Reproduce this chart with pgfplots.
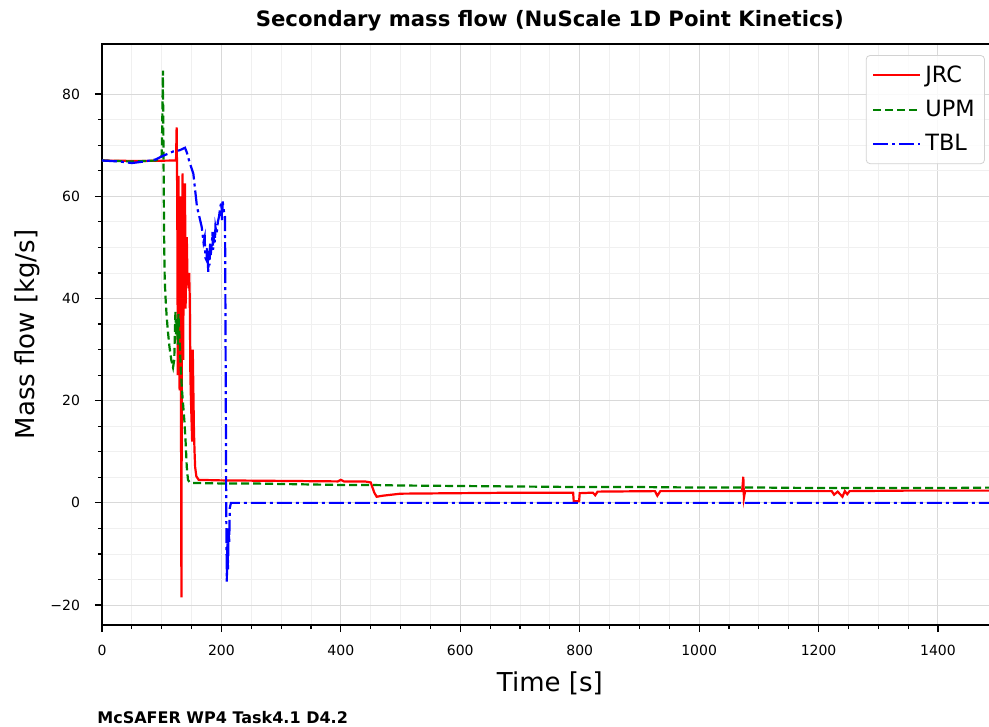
\documentclass[border=0pt]{standalone}
\usepackage{fontspec}
\setmainfont{DejaVu Sans}
\usepackage{pgfplots}
\pgfplotsset{compat=1.18}
\definecolor{mplred}{RGB}{255,0,0}
\definecolor{mplgreen}{RGB}{0,128,0}
\definecolor{mplblue}{RGB}{0,0,255}
\begin{document}
\begin{tikzpicture}
\begin{scope}
\clip (-51pt,-51pt) rectangle (443.5pt,312.5pt);
\begin{axis}[
  at={(0pt,0pt)}, anchor=south west,
  scale only axis, width=447.85pt, height=290.5pt,
  xmin=0, xmax=1500, ymin=-23.9, ymax=89.8,
  xtick={0,200,...,1400}, ytick={-20,0,20,40,60,80},
  yticklabels={−20,0,20,40,60,80},
  minor x tick num=3, minor y tick num=3,
  tick align=outside, tickpos=left,
  major tick length=3.5pt, minor tick length=2pt,
  every tick/.style={black, line width=0.6pt},
  grid=both,
  major grid style={gray!30, line width=0.5pt},
  minor grid style={gray!12, line width=0.4pt},
  axis line style={line width=0.9pt},
  ticklabel style={font=\fontsize{7}{8}\selectfont},
  /pgf/number format/assume math mode=true,
  /pgf/number format/set thousands separator={},
  xticklabel style={yshift=-3pt},
  yticklabel style={xshift=-4pt},
  title={Secondary mass flow (NuScale 1D Point Kinetics)},
  every axis title/.style={at={(axis description cs:0.5,1.0293)}, anchor=base, font=\fontsize{10.6}{12}\selectfont\bfseries},
  xlabel={Time [s]},
  ylabel={Mass flow [kg/s]},
  every axis x label/.style={at={(axis description cs:0.5,-0.1153)}, anchor=base, font=\fontsize{13}{15}\selectfont},
  every axis y label/.style={at={(axis description cs:-0.0759,0.5)}, rotate=90, anchor=base, font=\fontsize{13}{15}\selectfont},
  legend style={at={(axis description cs:0.9858,0.981)}, anchor=north east, draw=gray!35, rounded corners=2pt, fill=white, fill opacity=0.85, text opacity=1, font=\fontsize{11.2}{12}\selectfont, row sep=3.5pt, inner sep=3pt},
  legend cell align=left,
  legend image code/.code={\draw[#1] (0pt,0pt) -- (23.5pt,0pt);},
]
\addplot[mplred, line width=1.1pt] coordinates {
(0,67)(60,66.9)(124,67)(125,73.5)(126,60)(127,25)(128,64)(129,30)(130,22)(131,60)(132,35)(133,-18.5)(134,50)(135,64.5)(136,28)(137,55)(138,40)(139,62.5)(140,38)(141,50)(142,52)(143,45)(145,42)(146,45)(147,40)(148,25)(149,20)(150,16)(151,12)(152,30)(153,22)(154,14)(155,10)(156,7)(158,5.2)(162,4.5)(200,4.4)(300,4.3)(395,4.2)(400,4.5)(405,4.2)(440,4.2)(450,4.0)(456,2.0)(460,1.2)(470,1.4)(500,1.8)(600,1.9)(700,2.0)(789,2.0)(790,0.3)(799,0.3)(800,1.9)(822,2.0)(826,1.5)(830,2.2)(926,2.3)(930,1.4)(935,2.3)(1072,2.3)(1074,5.1)(1075,1.0)(1077,2.3)(1222,2.3)(1226,1.6)(1232,2.2)(1240,1.2)(1244,2.3)(1248,1.7)(1252,2.3)(1350,2.4)(1500,2.4)
};
\addlegendentry{JRC}
\addplot[mplgreen, line width=1.1pt, dash pattern=on 4pt off 2pt] coordinates {
(0,67.0)(50,66.8)(90,67.0)(98,67.5)(100,68)(101,75)(102,84.6)(103,68)(104,52)(105,44)(106,41)(108,37)(110,34)(113,30.5)(116,28)(119,26.5)(121,28)(122,33)(123,37.5)(124,33)(125,36)(127,31)(128,37)(130,32)(132,26)(134,22)(136,19)(138,16)(140,12)(142,7)(144,4.5)(147,4.0)(150,3.9)(200,3.8)(250,3.8)(300,3.7)(350,3.6)(400,3.5)(450,3.5)(500,3.4)(600,3.3)(700,3.2)(800,3.1)(900,3.1)(1000,3.0)(1100,3.0)(1200,2.9)(1300,2.9)(1400,2.9)(1500,3.0)
};
\addlegendentry{UPM}
\addplot[mplblue, line width=1.1pt, dash pattern=on 7.5pt off 2pt on 1.5pt off 2pt] coordinates {
(0,67)(30,66.8)(50,66.5)(70,66.8)(90,67.2)(100,67.8)(110,68.3)(120,68.8)(130,69.0)(139,69.5)(142,68.6)(147,66.5)(153,64.4)(159,58)(163,56)(167,54)(170,51)(172,52)(173,48)(175,47.5)(176,50)(178,45.2)(179,49)(180,46.5)(181,51)(182,48.5)(184,50.7)(185,53)(186,49.5)(188,53)(189,51)(190,54)(192,52.7)(194,55)(196,56)(198,57.9)(200,58.8)(201,55)(202,59)(204,57.2)(206,56)(207,30)(208,0)(209,-15.4)(210,-8)(211,-13)(212,-5)(213,-8)(214,-1)(216,0)(1500,0)
};
\addlegendentry{TBL}
\end{axis}
\end{scope}
\node[anchor=base west, font=\fontsize{8}{9}\selectfont\bfseries, inner sep=0pt] at (-2.5pt,-49pt) {McSAFER WP4 Task4.1 D4.2};
\pgfresetboundingbox
\path (-51pt,-51pt) rectangle (443.5pt,312.5pt);
\end{tikzpicture}
\end{document}
